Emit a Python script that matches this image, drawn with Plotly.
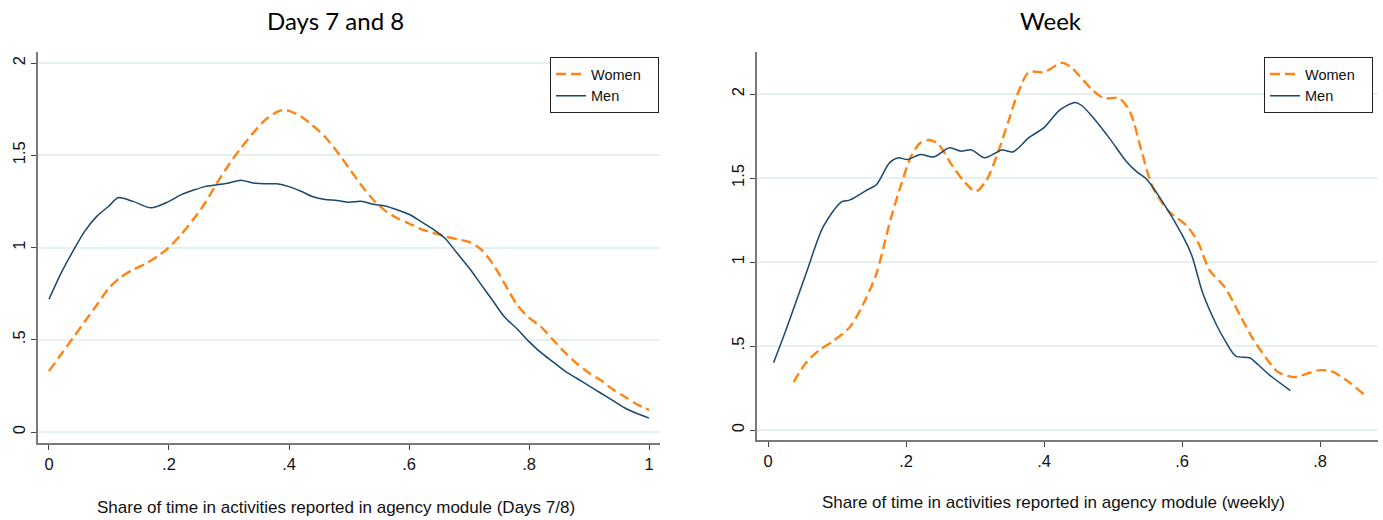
import plotly.graph_objects as go

# ---------------- data ----------------
# Panel 1: Days 7 and 8
d78_men_x = [0.00, 0.02, 0.04, 0.06, 0.08, 0.10, 0.115, 0.14, 0.17, 0.20, 0.22, 0.24, 0.26, 0.28, 0.30,
             0.32, 0.34, 0.36, 0.38, 0.40, 0.42, 0.44, 0.46, 0.48, 0.50, 0.52, 0.54, 0.56, 0.58, 0.60,
             0.62, 0.64, 0.66, 0.68, 0.70, 0.72, 0.74, 0.76, 0.78, 0.80, 0.82, 0.84, 0.86, 0.88, 0.90,
             0.92, 0.94, 0.96, 0.98, 1.00]
d78_men_y = [0.72, 0.86, 0.98, 1.09, 1.17, 1.225, 1.27, 1.25, 1.215, 1.25, 1.285, 1.31, 1.33, 1.34, 1.35,
             1.365, 1.35, 1.345, 1.345, 1.33, 1.305, 1.275, 1.26, 1.255, 1.245, 1.25, 1.235, 1.225, 1.205, 1.18,
             1.14, 1.10, 1.05, 0.97, 0.89, 0.80, 0.71, 0.62, 0.56, 0.49, 0.43, 0.38, 0.33, 0.29, 0.25,
             0.21, 0.17, 0.13, 0.10, 0.075]

d78_women_x = [0.00, 0.02, 0.04, 0.06, 0.08, 0.10, 0.12, 0.14, 0.16, 0.18, 0.20, 0.22, 0.24, 0.26, 0.28,
               0.30, 0.32, 0.34, 0.36, 0.38, 0.39, 0.40, 0.42, 0.44, 0.46, 0.48, 0.50, 0.52, 0.54, 0.56,
               0.58, 0.60, 0.62, 0.64, 0.66, 0.68, 0.70, 0.72, 0.74, 0.76, 0.78, 0.80, 0.82, 0.84, 0.86,
               0.88, 0.90, 0.92, 0.94, 0.96, 0.98, 1.00]
d78_women_y = [0.33, 0.42, 0.51, 0.60, 0.69, 0.78, 0.84, 0.88, 0.91, 0.95, 1.00, 1.07, 1.15, 1.24, 1.35,
               1.45, 1.54, 1.62, 1.69, 1.735, 1.745, 1.74, 1.71, 1.66, 1.60, 1.52, 1.43, 1.34, 1.26, 1.20,
               1.16, 1.13, 1.10, 1.08, 1.06, 1.045, 1.03, 0.99, 0.91, 0.80, 0.69, 0.62, 0.57, 0.50, 0.43,
               0.37, 0.32, 0.28, 0.23, 0.19, 0.15, 0.12]

# Panel 2: Week
wk_men_x = [0.008, 0.026, 0.055, 0.080, 0.106, 0.119, 0.144, 0.157, 0.176, 0.189, 0.202, 0.221, 0.240,
            0.263, 0.279, 0.295, 0.314, 0.339, 0.355, 0.378, 0.400, 0.423, 0.445, 0.455, 0.471, 0.496,
            0.519, 0.535, 0.547, 0.570, 0.599, 0.614, 0.630, 0.650, 0.662, 0.678, 0.698, 0.710, 0.726, 0.757]
wk_men_y = [0.40, 0.595, 0.93, 1.21, 1.357, 1.37, 1.43, 1.46, 1.59, 1.62, 1.61, 1.64, 1.625,
            1.68, 1.66, 1.667, 1.62, 1.667, 1.655, 1.74, 1.80, 1.905, 1.95, 1.93, 1.86, 1.73,
            1.60, 1.535, 1.50, 1.37, 1.17, 1.04, 0.815, 0.625, 0.535, 0.44, 0.43, 0.39, 0.33, 0.235]

wk_women_x = [0.037, 0.055, 0.074, 0.093, 0.119, 0.141, 0.157, 0.170, 0.176, 0.192, 0.208, 0.221, 0.234,
              0.247, 0.266, 0.282, 0.301, 0.317, 0.333, 0.349, 0.362, 0.378, 0.400, 0.426, 0.439, 0.451,
              0.471, 0.487, 0.509, 0.525, 0.541, 0.557, 0.579, 0.608, 0.624, 0.640, 0.662, 0.685, 0.704,
              0.726, 0.739, 0.762, 0.797, 0.816, 0.842, 0.864]
wk_women_y = [0.285, 0.40, 0.475, 0.525, 0.615, 0.775, 0.93, 1.13, 1.23, 1.45, 1.635, 1.71, 1.726,
              1.70, 1.58, 1.49, 1.42, 1.49, 1.65, 1.845, 2.005, 2.13, 2.13, 2.185, 2.16, 2.11,
              2.02, 1.975, 1.975, 1.89, 1.665, 1.45, 1.31, 1.21, 1.11, 0.95, 0.85, 0.675, 0.535,
              0.405, 0.345, 0.315, 0.355, 0.35, 0.285, 0.21]

series_names = ["Women", "Men"]
panel_titles = ["Days 7 and 8", "Week"]
x_titles = ["Share of time in activities reported in agency module (Days 7/8)",
            "Share of time in activities reported in agency module (weekly)"]
x1_ticks = [0, 0.2, 0.4, 0.6, 0.8, 1]
x1_ticktext = ["0", ".2", ".4", ".6", ".8", "1"]
x2_ticks = [0, 0.2, 0.4, 0.6, 0.8]
x2_ticktext = ["0", ".2", ".4", ".6", ".8"]
y_ticks = [0, 0.5, 1, 1.5, 2]
y_ticktext = ["0", ".5", "1", "1.5", "2"]

# ---------------- figure ----------------
W, H = 1383, 520
ORANGE = "#ff8412"
NAVY = "#1a476f"
PAD = "\u00a0\u00a0\u00a0"  # keeps the legend box as wide as the original

fig = go.Figure()
fig.add_trace(go.Scatter(x=d78_women_x, y=d78_women_y, name=series_names[0] + PAD, mode="lines",
                         line=dict(color=ORANGE, width=2.4, dash="10px,5px", shape="spline", smoothing=0.8),
                         xaxis="x", yaxis="y", legend="legend"))
fig.add_trace(go.Scatter(x=d78_men_x, y=d78_men_y, name=series_names[1], mode="lines",
                         line=dict(color=NAVY, width=1.5, shape="spline", smoothing=0.8),
                         xaxis="x", yaxis="y", legend="legend"))
fig.add_trace(go.Scatter(x=wk_women_x, y=wk_women_y, name=series_names[0] + PAD, mode="lines",
                         line=dict(color=ORANGE, width=2.4, dash="10px,5px", shape="spline", smoothing=0.8),
                         xaxis="x2", yaxis="y2", legend="legend2"))
fig.add_trace(go.Scatter(x=wk_men_x, y=wk_men_y, name=series_names[1], mode="lines",
                         line=dict(color=NAVY, width=1.5, shape="spline", smoothing=0.8),
                         xaxis="x2", yaxis="y2", legend="legend2"))

TXT = "Liberation Sans, Arial, Helvetica"
axis_common = dict(showline=True, linecolor="#7a7a7a", linewidth=1.6, ticks="outside",
                   ticklen=5, tickcolor="#444444", tickwidth=1.2,
                   tickfont=dict(family=TXT, size=16.5, color="#111111"),
                   zeroline=False)

legend_common = dict(yanchor="top", xanchor="left", bordercolor="#222222", borderwidth=1,
                     bgcolor="white", font=dict(family=TXT, size=14.5, color="#111111"),
                     tracegroupgap=0)

fig.update_layout(
    width=W, height=H, margin=dict(l=0, r=0, t=0, b=0),
    paper_bgcolor="white", plot_bgcolor="white",
    xaxis=dict(domain=[38 / W, 660 / W], range=[-0.0183, 1.0183], anchor="y",
               tickvals=x1_ticks, ticktext=x1_ticktext, showgrid=False, **axis_common),
    yaxis=dict(domain=[(H - 443) / H, (H - 52) / H], range=[-0.0596, 2.0596], anchor="x",
               tickvals=y_ticks, ticktext=y_ticktext, tickangle=-90,
               showgrid=True, gridcolor="#e6eff1", gridwidth=1.6, **axis_common),
    xaxis2=dict(domain=[757 / W, 1378 / W], range=[-0.016, 0.884], anchor="y2",
                tickvals=x2_ticks, ticktext=x2_ticktext, showgrid=False, **axis_common),
    yaxis2=dict(domain=[(H - 440) / H, (H - 52) / H], range=[-0.0595, 2.25], anchor="x2",
                tickvals=y_ticks, ticktext=y_ticktext, tickangle=-90,
                showgrid=True, gridcolor="#e6eff1", gridwidth=1.6, **axis_common),
    legend=dict(x=550 / W, y=1 - 57 / H, **legend_common),
    legend2=dict(x=1264 / W, y=1 - 57 / H, **legend_common),
    showlegend=True,
)

fig.add_annotation(text=panel_titles[0], x=335 / W, y=1 - 21 / H, xref="paper", yref="paper",
                   xanchor="center", yanchor="middle", showarrow=False,
                   font=dict(family="Lato, Open Sans", size=24, color="#000000"))
fig.add_annotation(text=panel_titles[1], x=1051 / W, y=1 - 21 / H, xref="paper", yref="paper",
                   xanchor="center", yanchor="middle", showarrow=False,
                   font=dict(family="Lato, Open Sans", size=24, color="#000000"))

fig.add_annotation(text=x_titles[0], x=336 / W, y=1 - 507 / H, xref="paper", yref="paper",
                   xanchor="center", yanchor="middle", showarrow=False,
                   font=dict(family=TXT, size=17, color="#111111"))
fig.add_annotation(text=x_titles[1], x=1053 / W, y=1 - 502 / H, xref="paper", yref="paper",
                   xanchor="center", yanchor="middle", showarrow=False,
                   font=dict(family=TXT, size=17, color="#111111"))

fig.write_html("out.html")
